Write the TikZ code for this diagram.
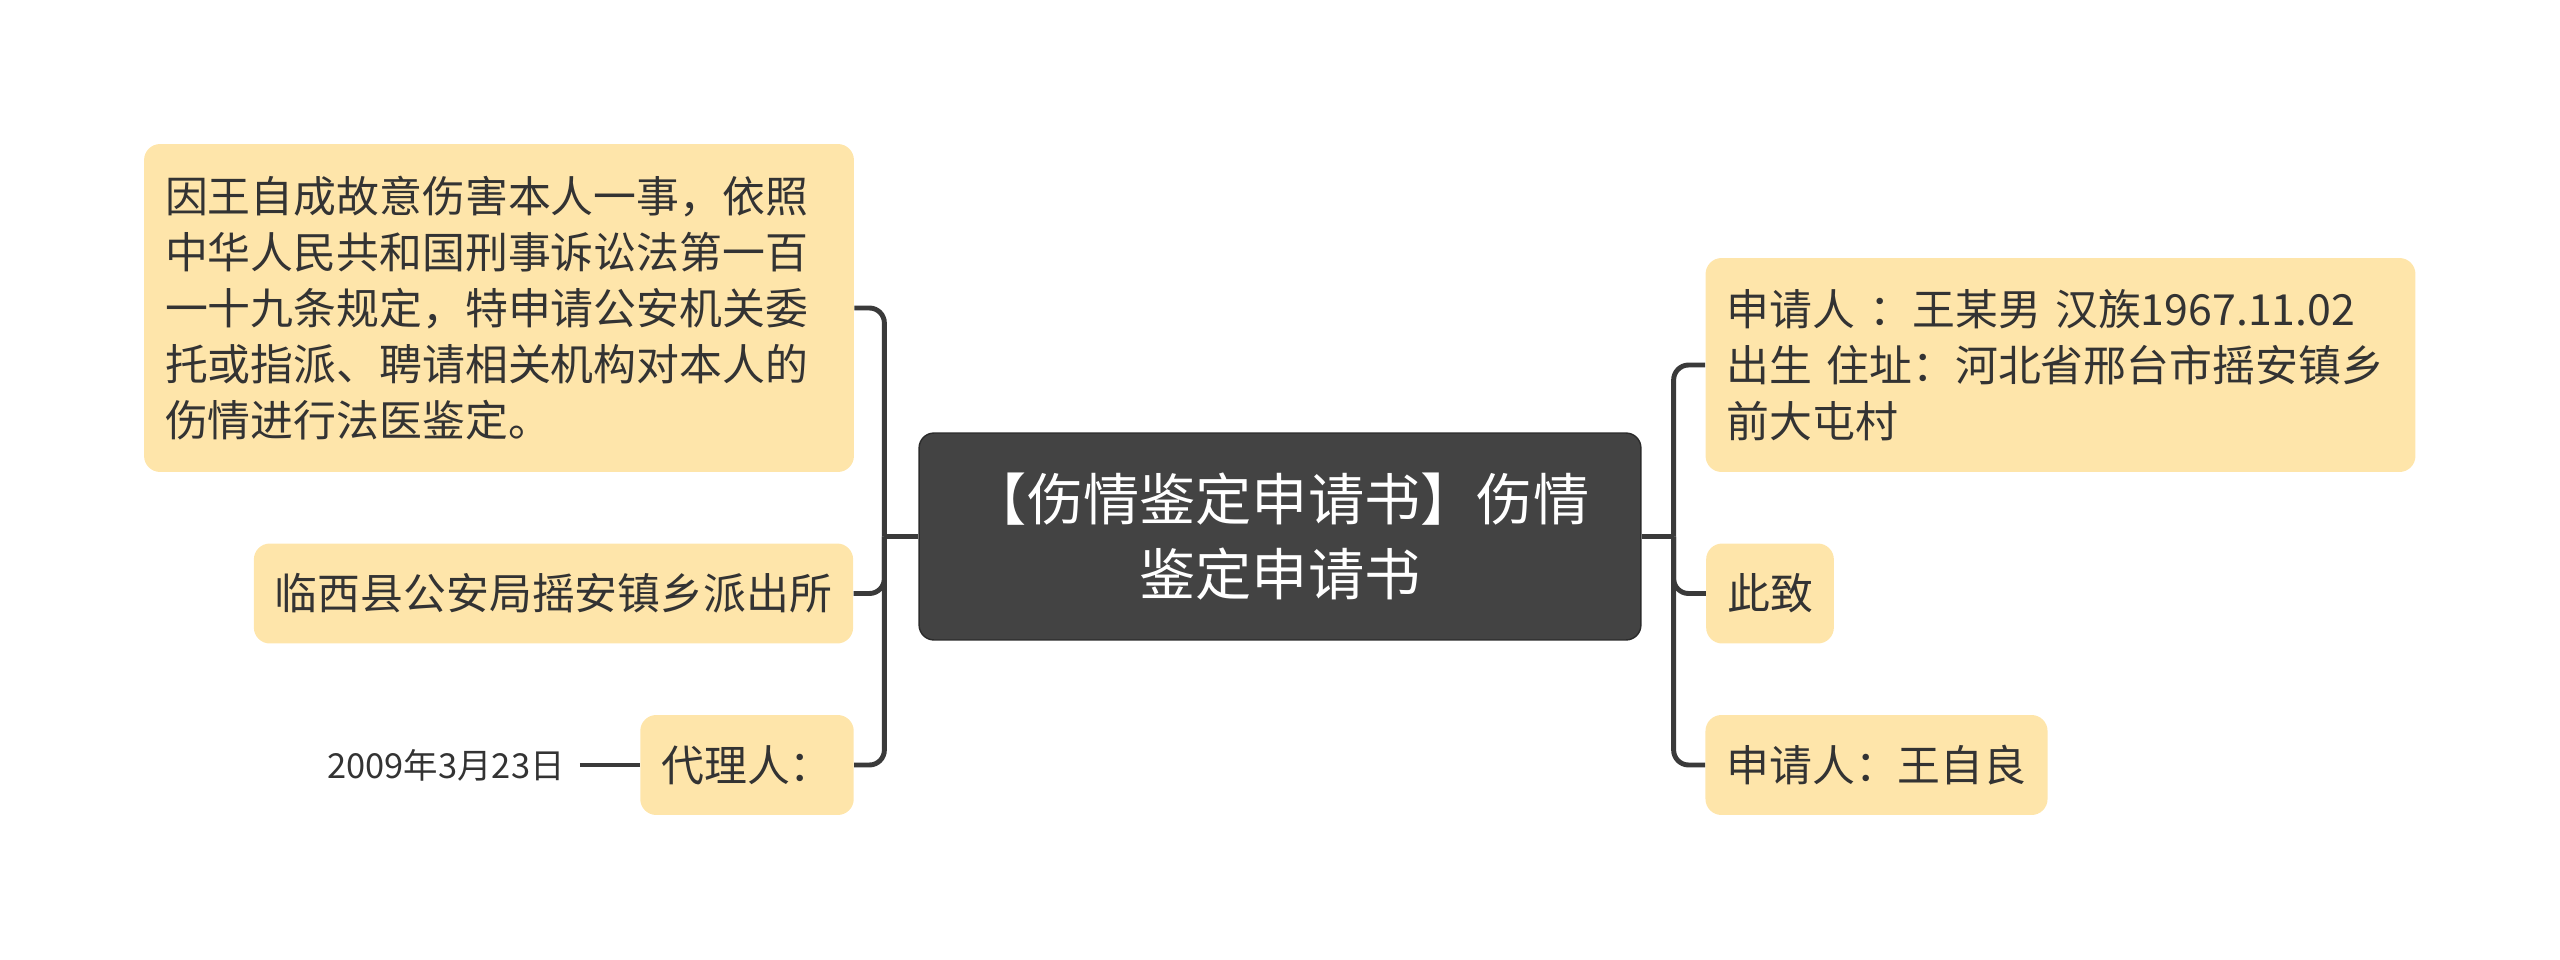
\documentclass[tikz,border=0pt]{standalone}
\usepackage{fontspec}
\setmainfont{Noto Sans CJK SC}
\begin{document}
\begin{tikzpicture}[x=0.02cm, y=-0.02cm,
    leaf/.style={fill=leafColour, text=textColour, rounded corners=0.32cm,
        inner xsep=0.42cm, inner ysep=0pt, minimum height=2cm,
        font=\fontsize{24.4pt}{31.9pt}\selectfont},
    leafblock/.style={leaf, align=left, text width=13.36cm},
    rootbox/.style={fill=rootColour, draw=rootBorder, line width=0.8pt, text=white,
        rounded corners=0.3cm, align=center, minimum width=14.44cm, minimum height=4.14cm,
        font=\fontsize{32pt}{42.5pt}\selectfont},
    conn/.style={draw=lineColour, line width=2.8pt, rounded corners=0.3cm}]

    \definecolor{leafColour}{HTML}{FEE5AA}
    \definecolor{textColour}{HTML}{333333}
    \definecolor{rootColour}{HTML}{434343}
    \definecolor{rootBorder}{HTML}{2B2B2B}
    \definecolor{lineColour}{HTML}{3A3A3A}

    % Fix the page size
    \useasboundingbox (0,0) rectangle (2560,960);

    % Draw the central topic
    \node[rootbox] (root) at (1280,536.5) {【伤情鉴定申请书】伤情\\鉴定申请书};

    % Draw left branches
    \node[leafblock, minimum height=6.56cm] (reason) at (499,308)
        {因王自成故意伤害本人一事，依照\\中华人民共和国刑事诉讼法第一百\\一十九条规定，特申请公安机关委\\托或指派、聘请相关机构对本人的\\伤情进行法医鉴定。};
    \node[leaf] (police) at (553.5,593.5) {临西县公安局摇安镇乡派出所};
    \node[leaf] (agent) at (747,765) {代理人：};
    \node[text=textColour, inner xsep=0.3cm, font=\fontsize{19.6pt}{24pt}\selectfont,
        anchor=east] (date) at ([xshift=-1.2cm]agent.west) {2009年3月23日};

    % Draw right branches
    \node[leafblock, minimum height=4.28cm] (applicant) at (2060.5,365)
        {申请人 ：王某男 汉族1967.11.02\\出生 住址：河北省邢台市摇安镇乡\\前大屯村};
    \node[leaf] (regards) at (1770,593.5) {此致};
    \node[leaf] (signer) at (1876.5,765) {申请人：王自良};

    % Draw connectors
    \coordinate (lj) at ([xshift=-0.68cm]root.west);
    \coordinate (rj) at ([xshift=0.64cm]root.east);
    \draw[conn] (root.west) -- (lj);
    \draw[conn] (root.east) -- (rj);
    \foreach \n in {reason,police,agent}
        \draw[conn] (lj) |- (\n.east);
    \foreach \n in {applicant,regards,signer}
        \draw[conn] (rj) |- (\n.west);
    \draw[conn] (date.east) -- (agent.west);

\end{tikzpicture}
\end{document}
